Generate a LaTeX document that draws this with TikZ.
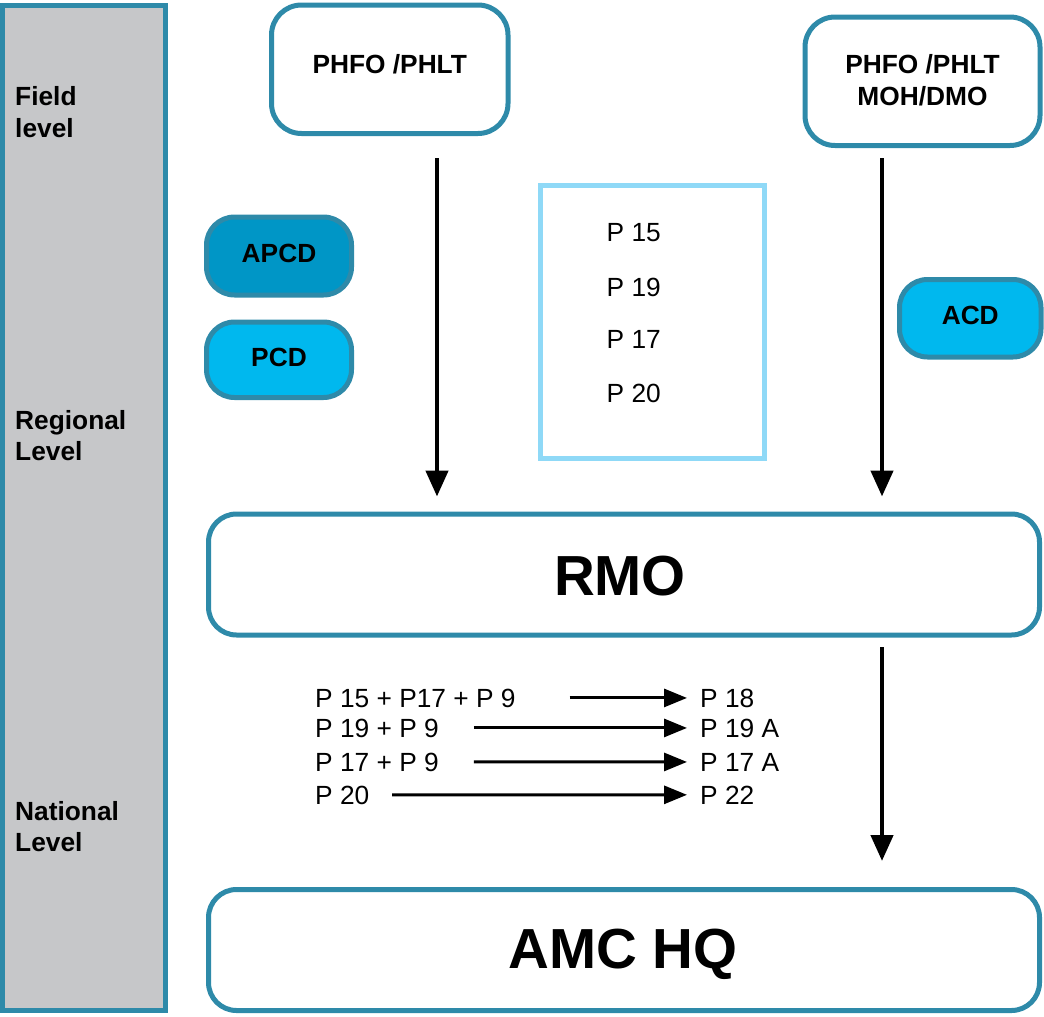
\documentclass[tikz,border=0pt]{standalone}
\usepackage{fontspec}
\setmainfont{Liberation Sans}
\usetikzlibrary{arrows.meta}
\definecolor{tealb}{HTML}{2E8AA9}
\definecolor{barg}{HTML}{C6C7C9}
\definecolor{darkc}{HTML}{0096C6}
\definecolor{lightc}{HTML}{00B8EE}
\definecolor{skyb}{HTML}{8FD9F7}
\tikzset{
  box/.style={draw=tealb, line width=5pt, rounded corners=30pt, fill=white, inner sep=0pt},
  pill/.style={box, rounded corners=28pt},
  lbl/.style={font=\fontsize{26.3}{30}\selectfont\bfseries, anchor=base west, inner sep=0pt},
  lblc/.style={font=\fontsize{26.3}{30}\selectfont\bfseries, anchor=base, inner sep=0pt},
  ptxt/.style={font=\fontsize{26.3}{30}\selectfont, anchor=base west, inner sep=0pt},
  big/.style={font=\fontsize{56.5}{60}\selectfont\bfseries, anchor=base, inner sep=0pt},
  varr/.style={line width=4.5pt, -{Triangle[length=26pt,width=22pt]}},
  harr/.style={line width=3pt, -{Triangle[length=23pt,width=18pt]}}
}
\begin{document}
\begin{tikzpicture}[x=1pt,y=-1pt]
\useasboundingbox (0,0) rectangle (1044,1017);
% left level bar
\node[draw=tealb, line width=5pt, fill=barg, minimum width=162.5pt, minimum height=1005pt, inner sep=0pt] (bar) at (83.75,508) {};
\node[lbl] (fieldA) at (15,105) {Field};
\node[lbl] (fieldB) at (15,137) {level};
\node[lbl] (regA) at (15,429) {Regional};
\node[lbl] (regB) at (15,460) {Level};
\node[lbl] (natA) at (15,820) {National};
\node[lbl] (natB) at (15,851) {Level};
% top boxes
\node[box, minimum width=236.5pt, minimum height=128.5pt] (phl) at (389.75,69.25) {};
\node[lblc] (phlT) at (389.75,73) {PHFO /PHLT};
\node[box, minimum width=235pt, minimum height=128.5pt] (phr) at (922.5,81.25) {};
\node[lblc] (phrT1) at (922.5,73) {PHFO /PHLT};
\node[lblc] (phrT2) at (922.5,105) {MOH/DMO};
% pills
\node[pill, fill=darkc, minimum width=145pt, minimum height=78pt] (apcd) at (279,256) {};
\node[lblc] (apcdT) at (279,262) {APCD};
\node[pill, fill=lightc, minimum width=145pt, minimum height=75.5pt] (pcd) at (279,359.75) {};
\node[lblc] (pcdT) at (279,366) {PCD};
\node[pill, fill=lightc, minimum width=141.5pt, minimum height=77.5pt] (acd) at (970.25,318.25) {};
\node[lblc] (acdT) at (970.25,324) {ACD};
% forms box
\node[draw=skyb, line width=5pt, minimum width=224pt, minimum height=273pt, inner sep=0pt] (forms) at (652.5,322) {};
\node[ptxt] (f1) at (606.5,241) {P 15};
\node[ptxt] (f2) at (606.5,296) {P 19};
\node[ptxt] (f3) at (606.5,348) {P 17};
\node[ptxt] (f4) at (606.5,402) {P 20};
% RMO and AMC HQ
\node[box, rounded corners=28pt, minimum width=831pt, minimum height=121pt] (rmo) at (624,574.5) {};
\node[big] (rmoT) at (620,595) {RMO};
\node[box, rounded corners=28pt, minimum width=831pt, minimum height=121pt] (amc) at (624,950) {};
\node[big] (amcT) at (623,968) {AMC HQ};
% vertical arrows
\coordinate (la) at (437,158);
\coordinate (ra) at (882,158);
\coordinate (ba) at (882,647);
\draw[varr] (la) -- ([yshift=15pt]la |- rmo.north);
\draw[varr] (ra) -- ([yshift=15pt]ra |- rmo.north);
\draw[varr] (ba) -- ([yshift=26pt]ba |- amc.north);
% conversion rows
\node[ptxt] (r1l) at (315,707) {P 15 + P17 + P 9};
\node[ptxt] (r1r) at (700,707) {P 18};
\node[ptxt] (r2l) at (315,737) {P 19 + P 9};
\node[ptxt] (r2r) at (700,737) {P 19 A};
\node[ptxt] (r3l) at (315,771) {P 17 + P 9};
\node[ptxt] (r3r) at (700,771) {P 17 A};
\node[ptxt] (r4l) at (315,804) {P 20};
\node[ptxt] (r4r) at (700,804) {P 22};
\draw[harr] ([xshift=54pt]r1l.east) -- ([xshift=-13pt]r1r.west);
\draw[harr] ([xshift=35pt]r2l.east) -- ([xshift=-13pt]r2r.west);
\draw[harr] ([xshift=35pt]r3l.east) -- ([xshift=-13pt]r3r.west);
\draw[harr] ([xshift=22.5pt]r4l.east) -- ([xshift=-13pt]r4r.west);
\end{tikzpicture}
\end{document}
